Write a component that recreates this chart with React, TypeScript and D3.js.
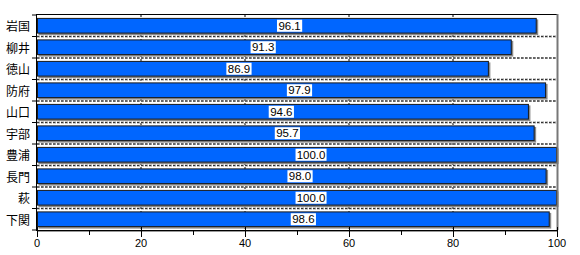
import React from "react";
import * as d3 from "d3";

const categories = ["岩国", "柳井", "徳山", "防府", "山口", "宇部", "豊浦", "長門", "萩", "下関"];
const values = [96.1, 91.3, 86.9, 97.9, 94.6, 95.7, 100.0, 98.0, 100.0, 98.6];
const majorTicks = [0, 20, 40, 60, 80, 100];
const minorTicks = [10, 30, 50, 70, 90];

const W = 580;
const H = 255;
const left = 37;
const right = 557;
const top = 15;
const bottom = 230;

export default function App() {
  const x = d3.scaleLinear().domain([0, 100]).range([left, right]);
  const y = d3
    .scaleBand<string>()
    .domain(categories)
    .range([top, bottom])
    .paddingInner(0.27)
    .paddingOuter(0.135);
  const step = y.step();
  const boundaries = d3.range(categories.length + 1).map((i) => top + i * step);
  // label centre positions (data units) as observed in the reference
  const labelPos = (v: number) => 1.058 * v - 53.1;
  const blue = "#0066ff";

  return (
    <svg
      width={W}
      height={H}
      style={{ position: "absolute", left: 0, top: 0, background: "#fff" }}
      fontFamily="'Liberation Sans', Arial, sans-serif"
    >
      <rect x={0} y={0} width={W} height={H} fill="#fff" />
      {/* vertical dashed grid */}
      {majorTicks.slice(1, -1).map((t) => (
        <line key={"vg" + t} x1={x(t)} x2={x(t)} y1={top} y2={bottom} stroke="#000" strokeDasharray="2,2" strokeWidth={1} />
      ))}
      {/* horizontal dashed grid */}
      {boundaries.slice(1, -1).map((b, i) => (
        <g key={"hg" + i}>
          <line x1={left} x2={right} y1={b} y2={b} stroke="#999" strokeWidth={2} strokeDasharray="3,1" />
          <line x1={left} x2={right} y1={b} y2={b} stroke="#333" strokeWidth={1} strokeDasharray="2,2" />
        </g>
      ))}
      {/* bars */}
      {categories.map((c, i) => {
        const by = y(c)!;
        const bw = x(values[i]) - x(0);
        return (
          <g key={"b" + c}>
            <rect x={x(0) + 1.5} y={by + 1.5} width={bw} height={y.bandwidth()} fill="#8a8a8a" />
            <rect x={x(0) + 0.5} y={by + 0.5} width={bw - 1} height={y.bandwidth() - 1} fill={blue} stroke="#1a1a1a" strokeWidth={1} />
          </g>
        );
      })}
      {/* value labels */}
      {categories.map((c, i) => {
        const cx = x(labelPos(values[i]));
        const cy = y(c)! + y.bandwidth() / 2;
        const txt = values[i].toFixed(1);
        const tw = txt.length * 5.8 + 2;
        return (
          <g key={"l" + c}>
            <rect x={cx - tw / 2} y={cy - 6} width={tw} height={12} fill="#fff" />
            <text x={cx} y={cy} textAnchor="middle" dominantBaseline="central" fontSize={11.5} fill="#000">
              {txt}
            </text>
          </g>
        );
      })}
      {/* frame */}
      <line x1={left} x2={right} y1={top - 0.5} y2={top - 0.5} stroke="#000" strokeWidth={1} />
      <line x1={right + 0.5} x2={right + 0.5} y1={top - 1} y2={bottom} stroke="#777" strokeWidth={2} />
      <line x1={left - 0.5} x2={left - 0.5} y1={top - 1} y2={bottom + 1} stroke="#000" strokeWidth={1} />
      <line x1={left - 1} x2={right + 1} y1={bottom + 0.5} y2={bottom + 0.5} stroke="#000" strokeWidth={1} />
      <line x1={left} x2={right} y1={bottom + 1.5} y2={bottom + 1.5} stroke="#999" strokeWidth={1} />
      {/* y ticks */}
      {boundaries.map((b, i) => (
        <line key={"yt" + i} x1={left - 5} x2={left} y1={b} y2={b} stroke="#000" strokeWidth={1} />
      ))}
      {/* category labels */}
      {categories.map((c) => (
        <text
          key={"cl" + c}
          x={30}
          y={y(c)! + y.bandwidth() / 2}
          textAnchor="end"
          dominantBaseline="central"
          fontSize={12}
          fontFamily="'Noto Sans CJK JP', sans-serif"
          fill="#000"
        >
          {c}
        </text>
      ))}
      {/* x ticks */}
      {majorTicks.map((t) => (
        <g key={"xt" + t}>
          <line x1={x(t) + 0.5} x2={x(t) + 0.5} y1={bottom - 3} y2={bottom + 7} stroke="#000" strokeWidth={1} />
          <text x={x(t)} y={bottom + 17} textAnchor="middle" fontSize={11} fill="#000">
            {t}
          </text>
        </g>
      ))}
      {minorTicks.map((t) => (
        <line key={"mt" + t} x1={x(t) + 0.5} x2={x(t) + 0.5} y1={bottom} y2={bottom + 5} stroke="#000" strokeWidth={1} />
      ))}
    </svg>
  );
}
